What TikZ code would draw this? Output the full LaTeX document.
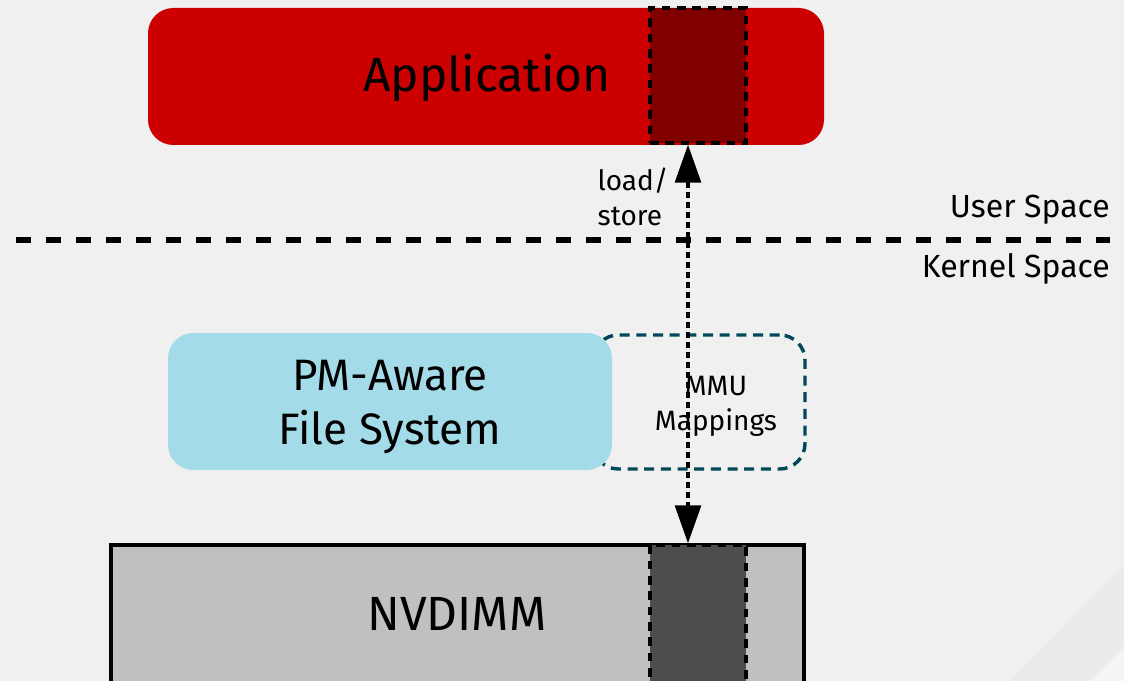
\documentclass[tikz,border=0pt]{standalone}
\usepackage{fontspec}
\setmainfont{Fira Sans}
\usetikzlibrary{positioning, arrows.meta}

\definecolor{bg}{HTML}{F0F0F0}
\definecolor{appred}{HTML}{CC0000}
\definecolor{mapred}{HTML}{800000}
\definecolor{pmblue}{HTML}{A3DBE8}
\definecolor{mmuteal}{HTML}{00495A}
\definecolor{nvgray}{HTML}{C0C0C0}
\definecolor{mapgray}{HTML}{4D4D4D}

\begin{document}
\begin{tikzpicture}[
    x=0.75pt, y=-0.75pt,
    layer/.style={rectangle, inner sep=0pt, minimum height=102.75pt},
    map/.style={rectangle, inner sep=0pt, draw=black, line width=2.6pt, dash pattern=on 6.5pt off 5pt, minimum width=72pt},
    big/.style={font=\fontsize{36}{40}\selectfont},
    mid/.style={font=\fontsize{33}{41}\selectfont, align=center},
    small/.style={font=\fontsize{21}{26}\selectfont},
    side/.style={font=\fontsize{24}{28}\selectfont, anchor=base east, inner sep=0pt},
    ]

   % Background.
   \fill[bg] (0,0) rectangle (1124,681);
   \useasboundingbox (0,0) rectangle (1124,681);
   \clip (0,0) rectangle (1124,681);
   \fill[black!8] (1124,565) -- (1124,681) -- (1010,681) -- cycle;
   \fill[black!4] (1124,647) -- (1124,681) -- (1090,681) -- cycle;

   % Application.
   \node[layer, fill=appred, rounded corners=19pt, minimum width=507pt] (app) at (486,76.5) {};
   \node[big] (app_t) at (487,78) {Application};
   \node[map, fill=mapred, minimum height=101.25pt] (app_map) at (698,75.5) {};

   % User / kernel boundary.
   \coordinate (sep_l) at (16,240);
   \coordinate (sep_r) at (1110,240);
   \draw[line width=5pt, dash pattern=on 11.25pt off 11.25pt] (sep_l) -- (sep_r);
   \node[side] (user) at (1110,218) {User Space};
   \node[side] (kernel) at (1110,277) {Kernel Space};

   % MMU mappings, behind the file system.
   \node[layer, draw=mmuteal, line width=2.6pt, dash pattern=on 7.5pt off 5pt, rounded corners=19pt,
         minimum width=159pt, minimum height=100.5pt] (mmu) at (699,402) {};
   \node[small, align=center] (mmu_t) at (716,406) {MMU\\Mappings};

   % PM-aware file system.
   \node[layer, fill=pmblue, rounded corners=19pt, minimum width=333pt] (pmfs) at (390,401.5) {};
   \node[mid] (pmfs_t) at (390,407) {PM-Aware\\File System};

   % NVDIMM.
   \node[layer, fill=nvgray, draw=black, line width=2.6pt, minimum width=519.75pt, minimum height=108.75pt] (nvdimm) at (457.5,617.5) {};
   \node[big] (nvdimm_t) at (457,614) {NVDIMM};
   \node[map, fill=mapgray, minimum height=108.75pt] (nv_map) at (698,617.5) {};

   % load/store.
   \draw[{Triangle[length=28.5pt, width=19.5pt]}-{Triangle[length=28.5pt, width=19.5pt]}, line width=2.3pt, dash pattern=on 4.5pt off 3pt]
      ([xshift=-7.5pt]app_map.south) -- ([xshift=-7.5pt]nv_map.north);
   \node[small, align=left, anchor=west] (ls) at (593,197) {load/\\store};

\end{tikzpicture}
\end{document}
